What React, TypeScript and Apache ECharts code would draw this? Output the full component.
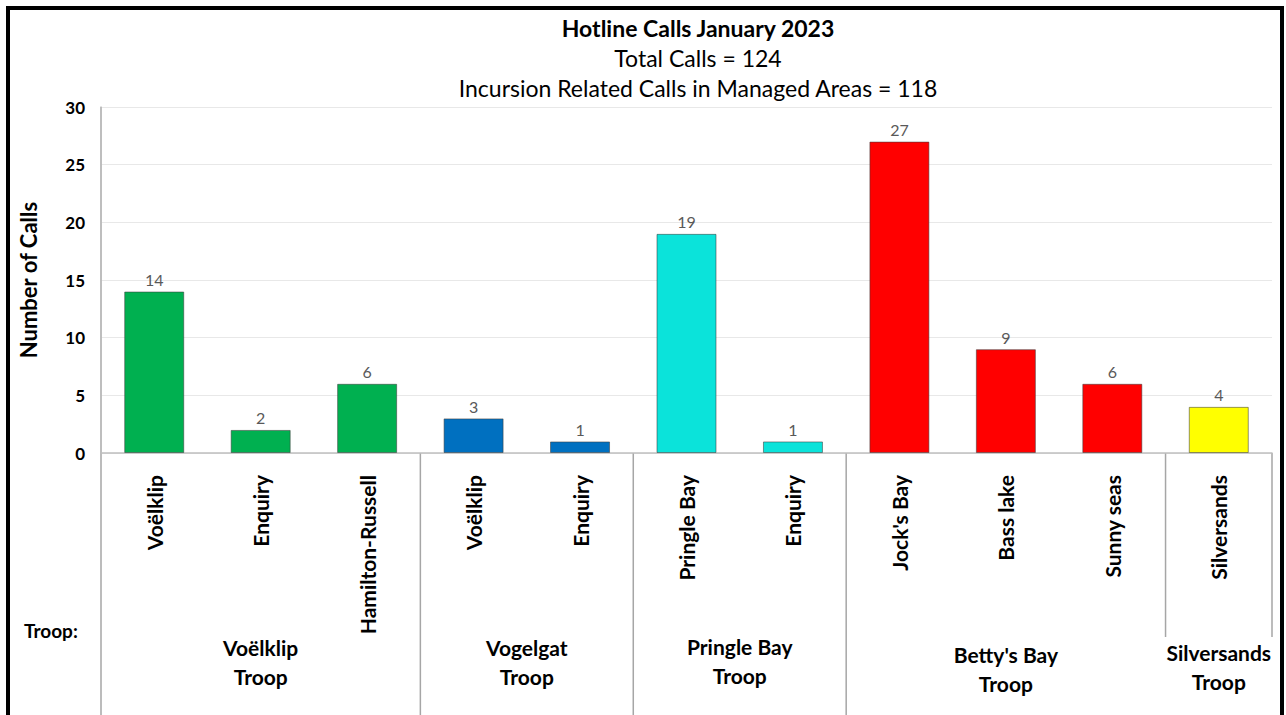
import React, { useEffect, useRef } from "react";
import * as echarts from "echarts";

const categories = ["Voëlklip", "Enquiry", "Hamilton-Russell", "Voëlklip", "Enquiry", "Pringle Bay", "Enquiry", "Jock's Bay", "Bass lake", "Sunny seas", "Silversands"];
const values = [14, 2, 6, 3, 1, 19, 1, 27, 9, 6, 4];
const troopIndex = [0, 0, 0, 1, 1, 2, 2, 3, 3, 3, 4];
const troops = ["Voëlklip\nTroop", "Vogelgat\nTroop", "Pringle Bay\nTroop", "Betty's Bay\nTroop", "Silversands\nTroop"];
const troopColors = ["#00B050", "#0070C0", "#0BE3DA", "#FF0000", "#FFFF00"];
const titleText = "Hotline Calls January 2023";
const subtitleText = "Total Calls = 124\nIncursion Related Calls in Managed Areas = 118";
const yAxisName = "Number of Calls";
const troopPrefix = "Troop:";

// layout (not data)
const troopLabelTop = [633, 633, 632, 640, 638];
const FONT = 'Lato, "Open Sans", sans-serif';

export default function App() {
  const ref = useRef<HTMLDivElement>(null);
  useEffect(() => {
    if (!ref.current) return;
    const chart = echarts.init(ref.current, null, { renderer: "svg" });
    chart.setOption({
      animation: false,
      backgroundColor: "#fff",
      title: {
        text: titleText,
        subtext: subtitleText,
        left: 693,
        textAlign: "center",
        top: 8,
        itemGap: 0,
        textStyle: { fontFamily: FONT, fontSize: 23, fontWeight: "bold", color: "#000", lineHeight: 30 },
        subtextStyle: { fontFamily: FONT, fontSize: 23, color: "#000", lineHeight: 30 },
      },
      grid: { left: 101, right: 14, top: 107, bottom: 262, containLabel: false },
      xAxis: {
        type: "category",
        data: categories,
        axisLine: { show: true, lineStyle: { color: "#BFBFBF", width: 1.5 } },
        axisTick: { show: false },
        axisLabel: {
          rotate: 90,
          interval: 0,
          margin: 22,
          fontFamily: FONT,
          fontSize: 21,
          fontWeight: "bold",
          color: "#000",
        },
      },
      yAxis: {
        type: "value",
        min: 0,
        max: 30,
        interval: 5,
        name: yAxisName,
        nameLocation: "middle",
        nameGap: 62,
        nameTextStyle: { fontFamily: FONT, fontSize: 22, fontWeight: "bold", color: "#000" },
        axisLine: { show: true, lineStyle: { color: "#BFBFBF", width: 1.5 } },
        axisTick: { show: false },
        axisLabel: { margin: 16, fontFamily: FONT, fontSize: 17, fontWeight: "bold", color: "#000" },
        splitLine: { show: true, lineStyle: { color: "#E8E8E8", width: 1 } },
      },
      series: [
        {
          type: "bar",
          barWidth: 60,
          data: values.map((v, i) => ({
            value: v,
            itemStyle: { color: troopColors[troopIndex[i]], borderColor: "rgba(60,60,60,0.55)", borderWidth: 1 },
          })),
          label: {
            show: true,
            position: "top",
            distance: 4,
            fontFamily: FONT,
            fontSize: 16,
            color: "#595959",
          },
        },
      ],
    });

    const px = (i: number) => chart.convertToPixel({ xAxisIndex: 0 }, i) as number;
    const c0 = px(0);
    const bw = px(1) - c0;
    const boundary = (i: number) => c0 - bw / 2 + i * bw;
    const yZero = chart.convertToPixel({ yAxisIndex: 0 }, 0) as number;
    const yTop = chart.convertToPixel({ yAxisIndex: 0 }, 30) as number;

    const graphics: any[] = [];
    const ranges: { start: number; end: number }[] = troops.map(() => ({ start: Infinity, end: -Infinity }));
    troopIndex.forEach((t, i) => {
      ranges[t].start = Math.min(ranges[t].start, i);
      ranges[t].end = Math.max(ranges[t].end, i + 1);
    });
    graphics.push({
      type: "line",
      shape: { x1: boundary(0), y1: yTop, x2: boundary(0), y2: 715 },
      style: { stroke: "#A6A6A6", lineWidth: 1.5 },
    });
    const lastTroop = troops.length - 1;
    ranges.forEach((r, t) => {
      if (t > 0) {
        const short = t === lastTroop;
        graphics.push({
          type: "line",
          shape: { x1: boundary(r.start), y1: yZero, x2: boundary(r.start), y2: short ? 637 : 715 },
          style: { stroke: "#A6A6A6", lineWidth: 1.5 },
        });
      }
      if (t === lastTroop) {
        graphics.push({
          type: "line",
          shape: { x1: boundary(r.end), y1: yZero, x2: boundary(r.end), y2: 637 },
          style: { stroke: "#A6A6A6", lineWidth: 1.5 },
        });
      }
      const cx = (boundary(r.start) + boundary(r.end)) / 2;
      graphics.push({
        type: "text",
        x: cx,
        y: troopLabelTop[t],
        style: {
          text: troops[t],
          fontFamily: FONT,
          fontSize: 21,
          fontWeight: "bold",
          fill: "#000",
          lineHeight: 29,
          align: "center",
          verticalAlign: "top",
          textAlign: "center",
          textVerticalAlign: "top",
        },
      });
    });
    graphics.push({
      type: "text",
      x: 24,
      y: 630,
      style: {
        text: troopPrefix,
        fontFamily: FONT,
        fontSize: 19,
        fontWeight: "bold",
        fill: "#000",
        align: "left",
        verticalAlign: "middle",
        textAlign: "left",
        textVerticalAlign: "middle",
      },
    });
    graphics.push({
      type: "rect",
      shape: { x: 8, y: 8, width: 1274, height: 720 },
      style: { fill: "none", stroke: "#000", lineWidth: 4 },
      z: 100,
    });
    chart.setOption({ graphic: graphics });

    return () => chart.dispose();
  }, []);
  return (
    <div
      ref={ref}
      style={{ position: "fixed", left: 0, top: 0, width: 1286, height: 715 }}
    />
  );
}
